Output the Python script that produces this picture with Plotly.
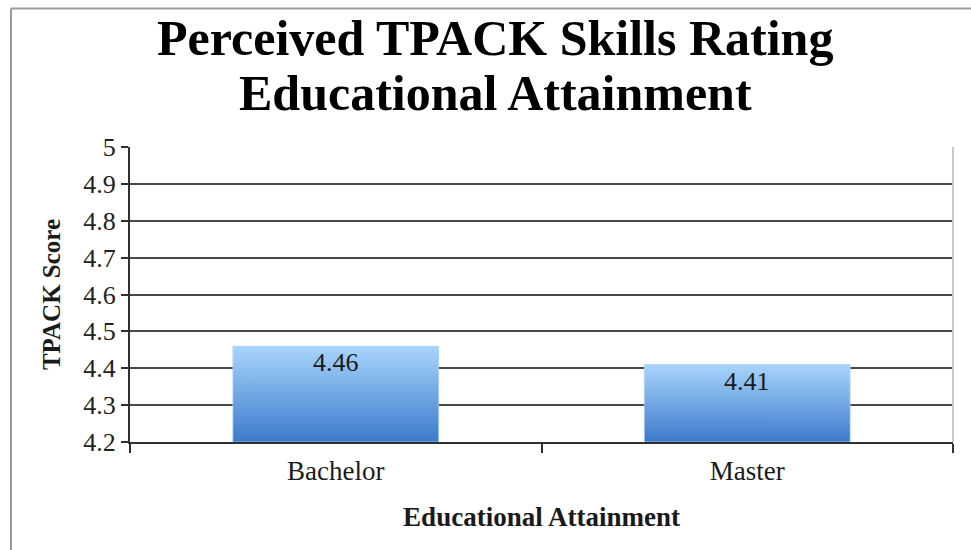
import plotly.graph_objects as go

# Chart data
categories = ["Bachelor", "Master"]
scores = [4.46, 4.41]
y_ticks = [4.2, 4.3, 4.4, 4.5, 4.6, 4.7, 4.8, 4.9, 5.0]
y_tick_labels = ["4.2", "4.3", "4.4", "4.5", "4.6", "4.7", "4.8", "4.9", "5"]
title_lines = ["Perceived TPACK Skills Rating", "Educational Attainment"]

Y_MIN, Y_MAX = 4.2, 5.0
BAR_HALF = 0.25
W, H = 971, 550
ML, MR, MT, MB = 130, 18, 147, 108
PW, PH = W - ML - MR, H - MT - MB

SERIF = "Liberation Serif"
TEXT = "#1a1a1a"
GRID = "#484848"
AXIS = "#303030"


def px_x(px):
    return (px - ML) / PW


def px_y(py):
    return (H - MB - py) / PH


fig = go.Figure()

positions = list(range(len(categories)))

# Base bars (solid) underneath the gradient fills
fig.add_trace(go.Bar(
    x=positions, y=[s - Y_MIN for s in scores], base=Y_MIN,
    width=2 * BAR_HALF, marker=dict(color="#6fa6e6", line=dict(width=0)),
    hoverinfo="skip", showlegend=False,
))

# Vertical gradient fill for each bar
for xi, s in zip(positions, scores):
    fig.add_trace(go.Scatter(
        x=[xi - BAR_HALF, xi + BAR_HALF, xi + BAR_HALF, xi - BAR_HALF, xi - BAR_HALF],
        y=[Y_MIN, Y_MIN, s, s, Y_MIN],
        mode="lines", fill="toself",
        line=dict(width=1, color="rgba(190,220,250,0.6)"),
        fillgradient=dict(
            type="vertical", start=Y_MIN, stop=s,
            colorscale=[[0, "#3c7acb"], [1, "#a9d5fc"]],
        ),
        hoverinfo="skip", showlegend=False,
    ))

annotations = []

# Value labels just inside the bar tops
for xi, s in zip(positions, scores):
    annotations.append(dict(
        x=xi, y=s, xref="x", yref="y", text=f"{s:.2f}", showarrow=False,
        xanchor="center", yanchor="top", yshift=0,
        font=dict(family=SERIF, size=26, color=TEXT),
    ))

# Two-line title
for line, cy in zip(title_lines, [38, 93]):
    annotations.append(dict(
        x=px_x(495), y=px_y(cy), xref="paper", yref="paper",
        text=f"<b>{line}</b>", showarrow=False,
        xanchor="center", yanchor="middle",
        font=dict(family=SERIF, size=50, color="black"),
    ))

fig.update_layout(
    width=W, height=H,
    margin=dict(l=ML, r=MR, t=MT, b=MB),
    paper_bgcolor="white", plot_bgcolor="white",
    showlegend=False,
    annotations=annotations,
    xaxis=dict(
        range=[-0.5, len(categories) - 0.5],
        tickmode="array", tickvals=positions, ticktext=categories,
        ticks="", showgrid=False, zeroline=False,
        showline=True, linecolor=AXIS, linewidth=2,
        tickfont=dict(family=SERIF, size=27, color=TEXT),
        ticklabelstandoff=4,
        minor=dict(
            tickmode="array",
            tickvals=[p - 0.5 for p in positions] + [positions[-1] + 0.5],
            ticks="outside", ticklen=9, tickwidth=2, tickcolor=AXIS,
            showgrid=False,
        ),
        title=dict(
            text="<b>Educational Attainment</b>", standoff=22,
            font=dict(family=SERIF, size=27, color=TEXT),
        ),
        fixedrange=True,
    ),
    yaxis=dict(
        range=[Y_MIN, Y_MAX],
        tickmode="array", tickvals=y_ticks, ticktext=y_tick_labels,
        ticks="outside", ticklen=7, tickwidth=2, tickcolor=AXIS,
        showgrid=True, gridcolor=GRID, gridwidth=2,
        zeroline=False,
        showline=True, linecolor=AXIS, linewidth=2,
        tickfont=dict(family=SERIF, size=26, color="#222222"),
        title=dict(
            text="<b>TPACK Score</b>", standoff=16,
            font=dict(family=SERIF, size=25, color=TEXT),
        ),
        fixedrange=True,
    ),
    shapes=[
        # light right edge of the plot area
        dict(type="line", xref="paper", yref="paper", x0=1, x1=1, y0=0, y1=1,
             line=dict(color="#c8c8c8", width=2)),
        # outer frame (top and left edges)
        dict(type="line", xref="paper", yref="paper",
             x0=px_x(11), x1=px_x(W + 5), y0=px_y(8.5), y1=px_y(8.5),
             line=dict(color="#9a9a9a", width=2)),
        dict(type="line", xref="paper", yref="paper",
             x0=px_x(11), x1=px_x(11), y0=px_y(8.5), y1=px_y(H + 5),
             line=dict(color="#9a9a9a", width=2)),
    ],
)

fig.write_html("out.html")
